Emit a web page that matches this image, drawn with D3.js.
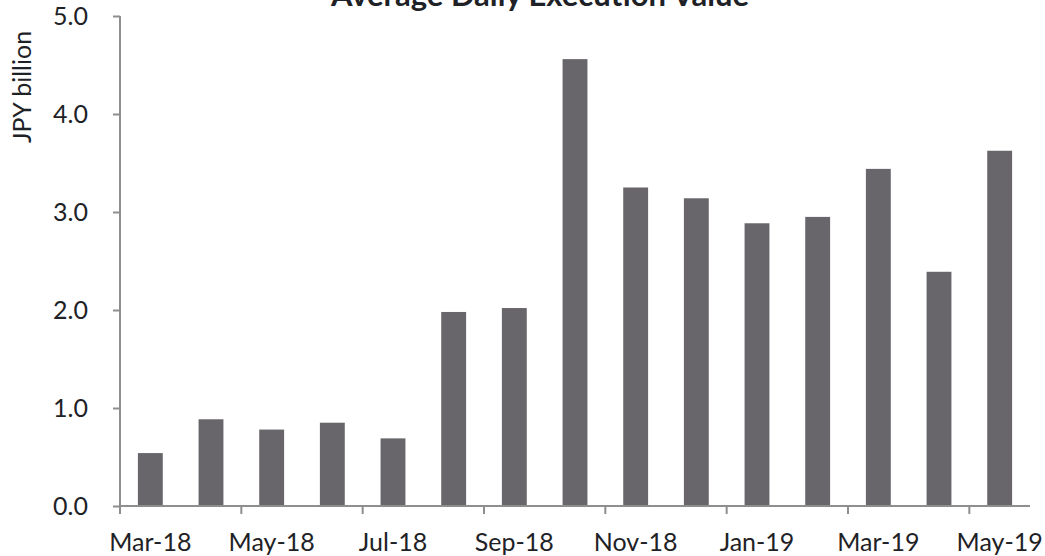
<!DOCTYPE html>
<html>
<head>
<meta charset="utf-8">
<script src="https://cdn.jsdelivr.net/npm/d3@7/dist/d3.min.js"></script>
<style>
  html, body { margin: 0; padding: 0; background: #fff; }
  svg { display: block; }
  text { font-family: Lato, "Open Sans", sans-serif; fill: #1e2226; }
</style>
</head>
<body>
<svg id="chart" width="1045" height="556"></svg>
<script>
// Monthly average daily execution value, JPY billion
const months = ["Mar-18","Apr-18","May-18","Jun-18","Jul-18","Aug-18","Sep-18","Oct-18",
                "Nov-18","Dec-18","Jan-19","Feb-19","Mar-19","Apr-19","May-19"];
const values = [0.54, 0.885, 0.78, 0.85, 0.69, 1.98, 2.02, 4.56,
                3.25, 3.14, 2.885, 2.95, 3.44, 2.39, 3.625];
const yTicks = [0, 1, 2, 3, 4, 5];
const titleText = "Average Daily Execution Value";
const yLabel = "JPY billion";

const svg = d3.select("#chart");
const plotLeft = 120, plotRight = 1030, plotTop = 16, plotBottom = 506;

const x = d3.scaleBand()
  .domain(months)
  .range([plotLeft, plotRight])
  .paddingInner(0.59)
  .paddingOuter(0.295);

const y = d3.scaleLinear().domain([0, 5]).range([plotBottom, plotTop]);

const axisColor = "#8e8e8e";
const labelSize = 25;

// bars
svg.append("g")
  .selectAll("rect")
  .data(months.map((m, i) => ({ m, v: values[i] })))
  .join("rect")
  .attr("x", d => x(d.m))
  .attr("y", d => y(d.v))
  .attr("width", x.bandwidth())
  .attr("height", d => y(0) - y(d.v))
  .attr("fill", "#69666b");

// y axis
const yAxis = svg.append("g")
  .attr("transform", `translate(${plotLeft},0)`)
  .call(d3.axisLeft(y).tickValues(yTicks).tickFormat(d3.format(".1f")).tickSize(7).tickPadding(25));
yAxis.select(".domain").attr("stroke", axisColor).attr("stroke-width", 2).attr("d", `M0,${plotTop}V${plotBottom}`);
yAxis.selectAll(".tick line").attr("stroke", axisColor).attr("stroke-width", 2);
yAxis.selectAll(".tick text").attr("font-size", labelSize).attr("fill", "#1e2226")
  .style("font-family", "Lato, 'Open Sans', sans-serif");

// x axis: tick marks on every other category boundary, labels centred under bars
const gap = x.step() - x.bandwidth();
const boundaryIdx = d3.range(0, months.length, 2);
const xg = svg.append("g");
xg.append("line")
  .attr("x1", plotLeft - 1).attr("x2", plotRight)
  .attr("y1", plotBottom).attr("y2", plotBottom)
  .attr("stroke", axisColor).attr("stroke-width", 2);
xg.selectAll("line.tick")
  .data(boundaryIdx)
  .join("line")
  .attr("class", "tick")
  .attr("x1", i => x(months[i]) - gap / 2)
  .attr("x2", i => x(months[i]) - gap / 2)
  .attr("y1", plotBottom).attr("y2", plotBottom + 8)
  .attr("stroke", axisColor).attr("stroke-width", 2);
xg.selectAll("text")
  .data(boundaryIdx)
  .join("text")
  .attr("x", i => x(months[i]) + x.bandwidth() / 2)
  .attr("y", 551)
  .attr("text-anchor", "middle")
  .attr("font-size", labelSize)
  .text(i => months[i]);

// y axis title
svg.append("text")
  .attr("transform", "translate(31,87) rotate(-90)")
  .attr("text-anchor", "middle")
  .attr("font-size", labelSize)
  .text(yLabel);

// chart title (sits at the very top edge of the canvas)
svg.append("text")
  .attr("x", 540)
  .attr("y", 6)
  .attr("text-anchor", "middle")
  .attr("font-size", 31)
  .attr("font-weight", "bold")
  .text(titleText);
</script>
</body>
</html>
